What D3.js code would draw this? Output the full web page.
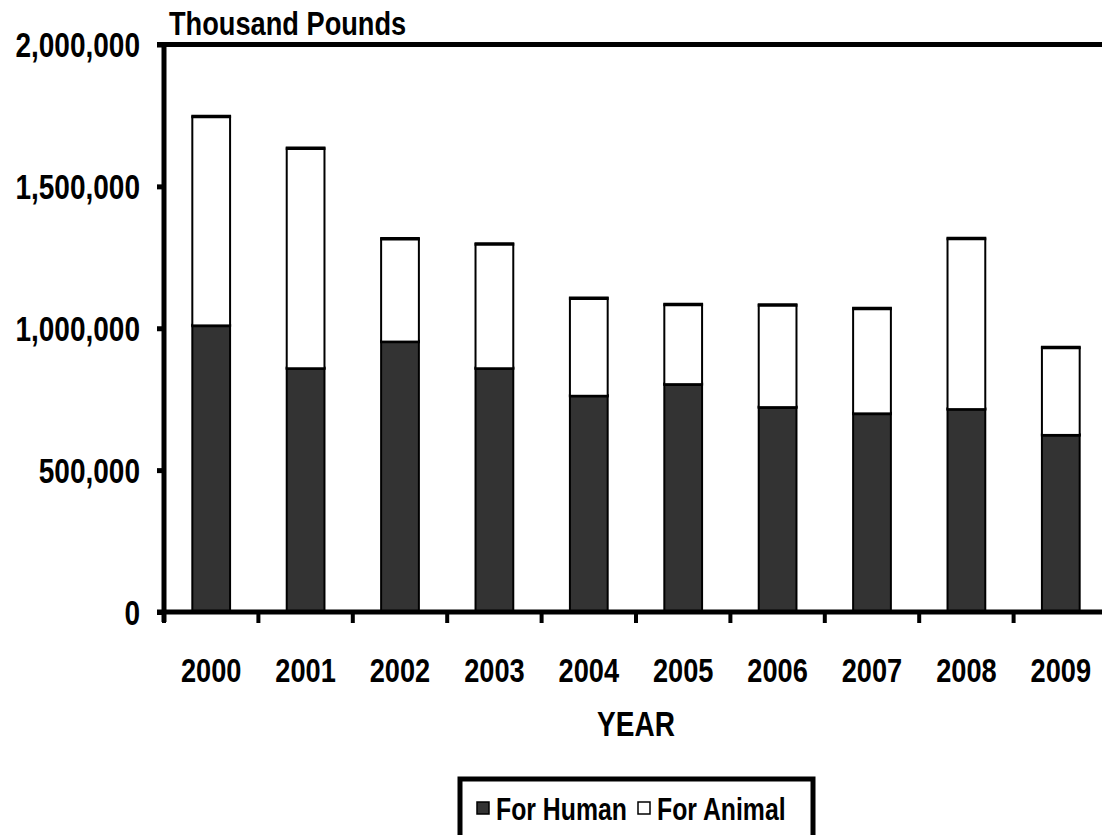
<!DOCTYPE html>
<html>
<head>
<meta charset="utf-8">
<script src="https://cdn.jsdelivr.net/npm/d3@7"></script>
<style>
  body { margin: 0; background: #fff; }
  text { font-family: "Liberation Sans", Arial, sans-serif; font-weight: bold; fill: #000; }
</style>
</head>
<body>
<svg id="chart" width="1102" height="835"></svg>
<script>
// data, thousand pounds
var years = ['2000','2001','2002','2003','2004','2005','2006','2007','2008','2009'];
var forHuman  = [1010000, 859000, 953000, 859000, 762000, 803000, 722000, 700000, 715000, 624000];
var forAnimal = [736000, 775000, 362000, 438000, 344000, 281000, 360000, 370000, 601000, 308000];
var yTicks = [0, 500000, 1000000, 1500000, 2000000];
var seriesNames = ['For Human', 'For Animal'];
var seriesColors = ['#333333', '#ffffff'];

var svg = d3.select('#chart');
var plotLeft = 164, plotRight = 1108, plotTop = 44.5, plotBottom = 612;
var narrow = 0.8; // squeeze Liberation Sans to look like a narrow face

// squeeze text horizontally, keeping its anchor
function condense(sel) {
    sel.each(function() {
        var w = this.getComputedTextLength();
        d3.select(this)
            .attr('textLength', w * narrow)
            .attr('lengthAdjust', 'spacingAndGlyphs');
    });
}

var x = d3.scaleBand()
    .domain(years)
    .range([plotLeft, plotRight])
    .paddingInner(0.6)
    .paddingOuter(0.3);

var y = d3.scaleLinear()
    .domain([0, 2000000])
    .range([plotBottom, plotTop]);

var rows = years.map(function(yr, i) {
    return { year: yr, human: forHuman[i], animal: forAnimal[i] };
});
var stack = d3.stack().keys(['human', 'animal'])(rows);

// bars
var layers = svg.append('g').selectAll('g')
    .data(stack)
    .enter().append('g')
    .attr('fill', function(d, i) { return seriesColors[i]; });

layers.selectAll('rect')
    .data(function(d) { return d; })
    .enter().append('rect')
    .attr('x', function(d) { return x(d.data.year); })
    .attr('y', function(d) { return y(d[1]); })
    .attr('width', x.bandwidth())
    .attr('height', function(d) { return y(d[0]) - y(d[1]); })
    .attr('stroke', '#000')
    .attr('stroke-width', 2);

// heavier top edge on each segment
layers.selectAll('line')
    .data(function(d) { return d; })
    .enter().append('line')
    .attr('x1', function(d) { return x(d.data.year) - 1; })
    .attr('x2', function(d) { return x(d.data.year) + x.bandwidth() + 1; })
    .attr('y1', function(d) { return y(d[1]); })
    .attr('y2', function(d) { return y(d[1]); })
    .attr('stroke', '#000')
    .attr('stroke-width', 3.5);

// plot frame top line
svg.append('line')
    .attr('x1', plotLeft - 7).attr('x2', plotRight)
    .attr('y1', plotTop).attr('y2', plotTop)
    .attr('stroke', '#000').attr('stroke-width', 5);

// y axis
var yAxis = svg.append('g')
    .attr('transform', 'translate(' + plotLeft + ',0)')
    .call(d3.axisLeft(y).tickValues(yTicks).tickFormat(d3.format(',')).tickSize(7).tickSizeOuter(0).tickPadding(17));
yAxis.select('.domain').attr('stroke-width', 5).attr('d', 'M0,' + (plotTop - 2) + 'V' + (plotBottom + 10));
yAxis.selectAll('.tick line').attr('stroke-width', 5);
yAxis.selectAll('.tick text')
    .attr('font-family', null)
    .attr('font-size', null)
    .style('font-size', '35px')
    .attr('dy', '0.35em')
    .call(condense);

// x axis: baseline plus ticks on band boundaries
var step = x.step();
var bounds = d3.range(years.length + 1).map(function(i) { return plotLeft + i * step; });
svg.append('line')
    .attr('x1', plotLeft - 7).attr('x2', plotRight)
    .attr('y1', plotBottom).attr('y2', plotBottom)
    .attr('stroke', '#000').attr('stroke-width', 5);
svg.append('g').selectAll('line')
    .data(bounds)
    .enter().append('line')
    .attr('x1', function(d) { return d; })
    .attr('x2', function(d) { return d; })
    .attr('y1', plotBottom).attr('y2', plotBottom + 11)
    .attr('stroke', '#000').attr('stroke-width', 4);

svg.append('g').selectAll('text')
    .data(years)
    .enter().append('text')
    .attr('x', function(d) { return x(d) + x.bandwidth() / 2; })
    .attr('y', 682)
    .attr('text-anchor', 'middle')
    .style('font-size', '34px')
    .text(function(d) { return d; })
    .call(condense);

svg.append('text')
    .attr('x', 636).attr('y', 736)
    .attr('text-anchor', 'middle')
    .style('font-size', '35px')
    .text('YEAR')
    .call(condense);

svg.append('text')
    .attr('x', 169).attr('y', 35)
    .style('font-size', '34px')
    .text('Thousand Pounds')
    .call(condense);

// legend
var lg = svg.append('g');
lg.append('rect')
    .attr('x', 460).attr('y', 779)
    .attr('width', 353).attr('height', 80)
    .attr('fill', '#fff').attr('stroke', '#000').attr('stroke-width', 5);
var legendX = [477, 638];
seriesNames.forEach(function(name, i) {
    lg.append('rect')
        .attr('x', legendX[i]).attr('y', 802)
        .attr('width', 12).attr('height', 12)
        .attr('fill', seriesColors[i]).attr('stroke', '#000').attr('stroke-width', 1.5);
    lg.append('text')
        .attr('x', legendX[i] + 19).attr('y', 820)
        .style('font-size', '31px')
        .text(name)
        .call(condense);
});
</script>
</body>
</html>
